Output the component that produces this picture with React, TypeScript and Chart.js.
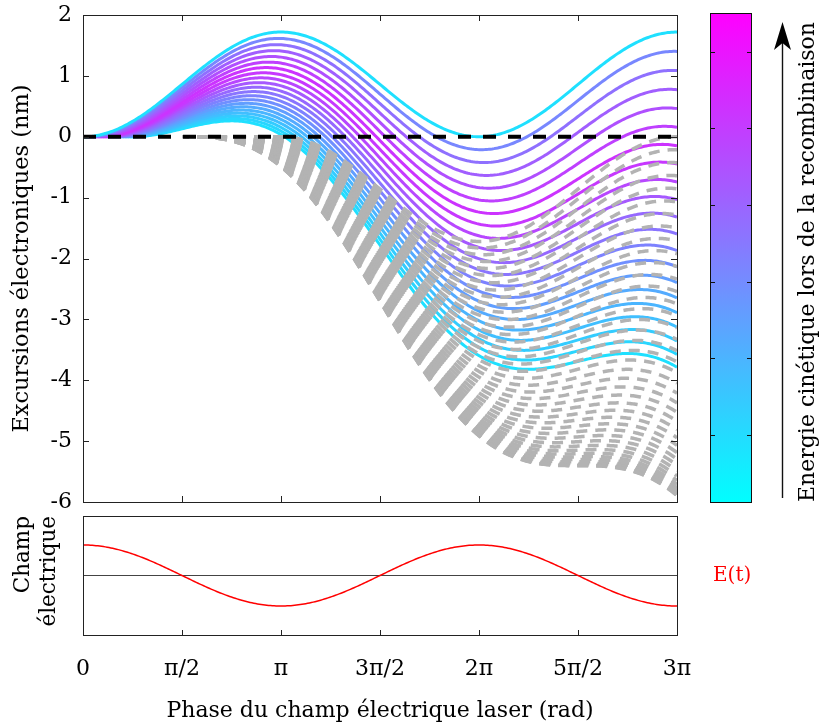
import React, { useEffect, useRef } from 'react';
import { Chart, registerables } from 'chart.js';

Chart.register(...registerables);

const PI = Math.PI;
const FONT = 'DejaVu Serif';

// ---- axis ticks -------------------------------------------------------
const PHASE_TICKS_PI = [0, 0.5, 1, 1.5, 2, 2.5, 3]; // multiples of π
const PHASE_TICK_LABELS = ['0', 'π/2', 'π', '3π/2', '2π', '5π/2', '3π'];
const EXCURSION_TICKS = [2, 1, 0, -1, -2, -3, -4, -5, -6];
const PHASE_MAX_PI = 3;
const EXCURSION_MIN = -6;
const EXCURSION_MAX = 2;
const FIELD_MIN = -1.95;
const FIELD_MAX = 1.95;

// ---- trajectories ----------------------------------------------------
// birth phases (degrees) of the returning electrons (solid coloured curves)
const RETURNING_BIRTH_DEG = [
  0, 2.25, 4.5, 6.75, 9, 11.25, 13.5, 15.75, 18, 20.25, 22.5,
  24.75, 27, 29.25, 31.5, 33.75, 36, 38.25, 40.5, 42.75, 45,
];
// position of each returning curve on the cyan(0) -> magenta(1) colour bar
const RETURNING_ENERGY_FRAC = [
  0.12, 0.47, 0.56, 0.63, 0.69, 0.75, 0.8, 0.78, 0.72, 0.65, 0.59,
  0.54, 0.49, 0.44, 0.38, 0.33, 0.29, 0.25, 0.2, 0.16, 0.12,
];
// birth phases (degrees) of the escaping electrons (grey dashed curves)
const ESCAPING_BIRTH_DEG = [
  90, 92.25, 94.5, 96.75, 99, 101.25, 103.5, 105.75, 108, 110.25,
  112.5, 114.75, 117, 119.25, 121.5, 123.75, 126, 128.25, 130.5, 132.75,
  135, 137.25, 139.5, 141.75, 144, 146.25, 148.5, 150.75, 153, 155.25,
  157.5, 159.75, 162, 164.25, 166.5, 168.75, 171, 173.25, 175.5, 177.75, 180,
];
// quiver amplitude of the excursion (nm) and field amplitude
const EXCURSION_AMPLITUDE_NM = 0.86;
const FIELD_AMPLITUDE = 1;
// tick positions on the energy colour bar (fraction of its height, from bottom)
const COLORBAR_TICK_FRACS = [0.139, 0.295, 0.451, 0.608, 0.765, 0.92];

const SAMPLES = 320;

// classical (simple-man) trajectory of an electron born at phase p0 in E = cos(phase)
function trajectory(birthDeg: number) {
  const p0 = (birthDeg * PI) / 180;
  const end = PHASE_MAX_PI * PI;
  const pts: { x: number; y: number }[] = [];
  for (let i = 0; i <= SAMPLES; i++) {
    const p = p0 + ((end - p0) * i) / SAMPLES;
    pts.push({
      x: p,
      y: EXCURSION_AMPLITUDE_NM * (Math.cos(p0) - Math.cos(p) - (p - p0) * Math.sin(p0)),
    });
  }
  return pts;
}

function fieldCurve() {
  const end = PHASE_MAX_PI * PI;
  const pts: { x: number; y: number }[] = [];
  for (let i = 0; i <= SAMPLES; i++) {
    const p = (end * i) / SAMPLES;
    pts.push({ x: p, y: FIELD_AMPLITUDE * Math.cos(p) });
  }
  return pts;
}

function energyColor(t: number) {
  const r = Math.round(255 * t);
  const g = Math.round(255 * (1 - t));
  return `rgb(${r},${g},255)`;
}

function frameTicks(id: string, xTop: boolean, yTicks: boolean, tickLen: number) {
  return {
    id,
    afterDatasetsDraw(chart: any) {
      const { ctx, chartArea: a, scales } = chart;
      ctx.save();
      ctx.strokeStyle = '#222';
      ctx.lineWidth = 1;
      ctx.beginPath();
      PHASE_TICKS_PI.forEach((v) => {
        const px = Math.round(scales.x.getPixelForValue(v * PI)) + 0.5;
        ctx.moveTo(px, a.bottom);
        ctx.lineTo(px, a.bottom - tickLen);
        if (xTop) {
          ctx.moveTo(px, a.top);
          ctx.lineTo(px, a.top + tickLen);
        }
      });
      if (yTicks) {
        EXCURSION_TICKS.forEach((v) => {
          const py = Math.round(scales.y.getPixelForValue(v)) + 0.5;
          ctx.moveTo(a.left, py);
          ctx.lineTo(a.left + tickLen, py);
          ctx.moveTo(a.right, py);
          ctx.lineTo(a.right - tickLen, py);
        });
      }
      ctx.stroke();
      ctx.strokeRect(
        Math.round(a.left) + 0.5,
        Math.round(a.top) + 0.5,
        Math.round(a.right - a.left),
        Math.round(a.bottom - a.top)
      );
      ctx.restore();
    },
  };
}

const colorbarPlugin = {
  id: 'colorbar',
  afterDraw(chart: any) {
    const { ctx } = chart;
    const L = 710, R = 752, T = 13, B = 503;
    ctx.save();
    const g = ctx.createLinearGradient(0, T, 0, B);
    g.addColorStop(0, energyColor(1));
    g.addColorStop(0.5, energyColor(0.5));
    g.addColorStop(1, energyColor(0));
    ctx.fillStyle = g;
    ctx.fillRect(L, T, R - L, B - T);
    ctx.strokeStyle = '#111';
    ctx.lineWidth = 1;
    ctx.beginPath();
    COLORBAR_TICK_FRACS.forEach((f) => {
      const y = Math.round(B - f * (B - T)) + 0.5;
      ctx.moveTo(L, y);
      ctx.lineTo(L + 5, y);
      ctx.moveTo(R, y);
      ctx.lineTo(R - 5, y);
    });
    ctx.stroke();
    ctx.strokeRect(L + 0.5, T + 0.5, R - L - 1, B - T - 1);
    // arrow
    const ax = 782.5;
    ctx.lineWidth = 1.4;
    ctx.beginPath();
    ctx.moveTo(ax, 498);
    ctx.lineTo(ax, 40);
    ctx.stroke();
    ctx.fillStyle = '#000';
    ctx.beginPath();
    ctx.moveTo(ax, 22);
    ctx.lineTo(ax + 8.5, 50);
    ctx.lineTo(ax, 43);
    ctx.lineTo(ax - 8.5, 50);
    ctx.closePath();
    ctx.fill();
    // label
    ctx.translate(808, 262);
    ctx.rotate(-PI / 2);
    ctx.font = `22px "${FONT}"`;
    ctx.textAlign = 'center';
    ctx.textBaseline = 'middle';
    ctx.fillStyle = '#000';
    ctx.fillText('Energie cinétique lors de la recombinaison', 0, 0);
    ctx.restore();
  },
};

const fieldLabelPlugin = {
  id: 'fieldLabel',
  afterDraw(chart: any) {
    const { ctx } = chart;
    const ds = chart.data.datasets[0];
    ctx.save();
    ctx.font = `20px "${FONT}"`;
    ctx.fillStyle = ds.borderColor;
    ctx.textAlign = 'left';
    ctx.textBaseline = 'middle';
    ctx.fillText(ds.label, 713, chart.scales.y.getPixelForValue(0));
    ctx.restore();
  },
};

export default function App() {
  const topRef = useRef<HTMLCanvasElement>(null);
  const botRef = useRef<HTMLCanvasElement>(null);

  useEffect(() => {
    if (!topRef.current || !botRef.current) return;

    const zeroLine = {
      label: 'zero',
      data: [
        { x: 0, y: 0 },
        { x: PHASE_MAX_PI * PI, y: 0 },
      ],
      borderColor: '#000',
      borderWidth: 4,
      borderDash: [13, 12],
      pointRadius: 0,
      order: 0,
    };
    // dashes of every grey curve are phased as if the curve had been drawn from the origin
    const grey = ESCAPING_BIRTH_DEG.map((d) => ({
      label: `escape ${d}`,
      data: trajectory(d),
      borderColor: '#b3b3b3',
      borderWidth: 3.5,
      borderDash: [11, 8],
      borderDashOffset: (c: any) => {
        const x = c.chart.scales.x;
        return x.getPixelForValue((d * PI) / 180) - x.getPixelForValue(0);
      },
      pointRadius: 0,
      order: 1,
    }));
    const coloured = RETURNING_BIRTH_DEG.map((d, i) => ({
      label: `return ${d}`,
      data: trajectory(d),
      borderColor: energyColor(RETURNING_ENERGY_FRAC[i]),
      borderWidth: 3,
      pointRadius: 0,
      order: 2,
    }));

    const top = new Chart(topRef.current, {
      type: 'line',
      data: { datasets: [zeroLine, ...grey, ...coloured] as any },
      options: {
        animation: false,
        responsive: false,
        devicePixelRatio: 1,
        parsing: false,
        layout: { padding: { left: 0, right: 146, top: 15, bottom: 8 } },
        plugins: { legend: { display: false }, tooltip: { enabled: false } },
        elements: { point: { radius: 0 }, line: { tension: 0 } },
        scales: {
          x: { type: 'linear', min: 0, max: PHASE_MAX_PI * PI, display: false },
          y: {
            type: 'linear',
            min: EXCURSION_MIN,
            max: EXCURSION_MAX,
            afterBuildTicks: (s: any) => {
              s.ticks = EXCURSION_TICKS.map((v) => ({ value: v }));
            },
            ticks: {
              font: { family: FONT, size: 22 },
              color: '#000',
              padding: 11,
              callback: (v: any) => String(v),
            },
            grid: { display: false, drawTicks: false },
            border: { display: false },
            title: {
              display: true,
              text: 'Excursions électroniques (nm)',
              font: { family: FONT, size: 22.5 },
              color: '#000',
              padding: { top: 9, bottom: 0 },
            },
            afterFit: (s: any) => {
              s.width = 83;
              s.paddingTop = 0;
              s.paddingBottom = 0;
            },
          },
        },
      } as any,
      plugins: [frameTicks('frameTop', true, true, 6), colorbarPlugin],
    });

    const bot = new Chart(botRef.current, {
      type: 'line',
      data: {
        datasets: [
          {
            label: 'E(t)',
            data: fieldCurve(),
            borderColor: '#ff0000',
            borderWidth: 1.5,
            pointRadius: 0,
            order: 0,
          },
          {
            label: 'zero',
            data: [
              { x: 0, y: 0 },
              { x: PHASE_MAX_PI * PI, y: 0 },
            ],
            borderColor: '#444',
            borderWidth: 1,
            pointRadius: 0,
            order: 1,
          },
        ] as any,
      },
      options: {
        animation: false,
        responsive: false,
        devicePixelRatio: 1,
        parsing: false,
        layout: { padding: { left: 0, right: 146, top: 6, bottom: 0 } },
        plugins: { legend: { display: false }, tooltip: { enabled: false } },
        elements: { point: { radius: 0 }, line: { tension: 0 } },
        scales: {
          x: {
            type: 'linear',
            min: 0,
            max: PHASE_MAX_PI * PI,
            afterBuildTicks: (s: any) => {
              s.ticks = PHASE_TICKS_PI.map((v) => ({ value: v * PI }));
            },
            ticks: {
              font: { family: FONT, size: 22 },
              color: '#000',
              padding: 21,
              maxRotation: 0,
              autoSkip: false,
              callback: (_v: any, i: number) => PHASE_TICK_LABELS[i],
            },
            grid: { display: false, drawTicks: false },
            border: { display: false },
            title: {
              display: true,
              text: 'Phase du champ électrique laser (rad)',
              font: { family: FONT, size: 22 },
              color: '#000',
              padding: { top: 0, bottom: 1 },
            },
            afterFit: (s: any) => {
              s.height = 90;
              s.paddingLeft = 0;
              s.paddingRight = 0;
            },
          },
          y: {
            type: 'linear',
            min: FIELD_MIN,
            max: FIELD_MAX,
            ticks: { display: false },
            grid: { display: false, drawTicks: false },
            border: { display: false },
            title: {
              display: true,
              text: ['Champ', 'électrique'],
              align: 'end',
              font: { family: FONT, size: 21.5 },
              color: '#000',
              padding: { top: 11, bottom: 0 },
            },
            afterFit: (s: any) => {
              s.width = 83;
              s.paddingTop = 0;
              s.paddingBottom = 0;
            },
          },
        },
      } as any,
      plugins: [frameTicks('frameBot', false, false, 5), fieldLabelPlugin],
    });

    return () => {
      top.destroy();
      bot.destroy();
    };
  }, []);

  return (
    <div style={{ position: 'absolute', left: 0, top: 0, width: 823, height: 725, background: '#fff' }}>
      <canvas ref={topRef} width={823} height={510} style={{ position: 'absolute', left: 0, top: 0 }} />
      <canvas ref={botRef} width={823} height={215} style={{ position: 'absolute', left: 0, top: 510 }} />
    </div>
  );
}
